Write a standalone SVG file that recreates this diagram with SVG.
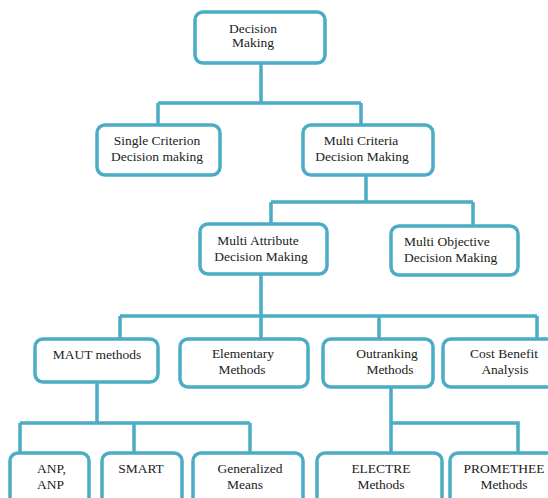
<svg xmlns="http://www.w3.org/2000/svg" width="548" height="498" viewBox="0 0 548 498">
<style>
.box{fill:#fff;stroke:#4BACC6;stroke-width:3.5}
.ln{fill:none;stroke:#4BACC6;stroke-width:3.5}
text{font-family:"Liberation Serif","Times New Roman",serif;font-size:13.5px;fill:#222}
.c{text-anchor:middle}
</style>
<rect width="548" height="498" fill="#fff"/>
<g id="connectors">
<path class="ln" d="M261 63V103M158 103H361M158 103V125M361 103V125"/>
<path class="ln" d="M366 175V202M271 202H473M271 202V224M473 202V226"/>
<path class="ln" d="M261 274V339M120 316H537M120 316V339M379 316V339M537 316V339"/>
<path class="ln" d="M97 382V423M20 423H250M20 423V453M134 423V453M250 423V453"/>
<path class="ln" d="M391 387V453M391 423H518V453"/>
</g>
<g id="decision-making"><rect class="box" x="195" y="12" width="130" height="51" rx="8"/><text class="c" x="253" y="33">Decision</text><text class="c" x="253" y="47">Making</text></g>
<g id="single-criterion"><rect class="box" x="97" y="125" width="123" height="50" rx="8"/><text class="c" x="157" y="145">Single Criterion</text><text class="c" x="157" y="161">Decision making</text></g>
<g id="multi-criteria"><rect class="box" x="303" y="125" width="130" height="50" rx="8"/><text class="c" x="361" y="145">Multi Criteria</text><text class="c" x="362" y="161">Decision Making</text></g>
<g id="multi-attribute"><rect class="box" x="200" y="224" width="127" height="50" rx="8"/><text class="c" x="258" y="245">Multi Attribute</text><text class="c" x="261" y="261">Decision Making</text></g>
<g id="multi-objective"><rect class="box" x="391" y="226" width="127" height="49" rx="8"/><text x="404" y="246">Multi Objective</text><text x="404" y="262">Decision Making</text></g>
<g id="maut"><rect class="box" x="35" y="339" width="123" height="43" rx="8"/><text class="c" x="97" y="359">MAUT methods</text></g>
<g id="elementary"><rect class="box" x="180" y="339" width="128" height="48" rx="8"/><text class="c" x="243" y="358">Elementary</text><text class="c" x="242" y="374">Methods</text></g>
<g id="outranking"><rect class="box" x="323" y="339" width="110" height="48" rx="8"/><text class="c" x="387" y="358">Outranking</text><text class="c" x="390" y="374">Methods</text></g>
<g id="cost-benefit"><rect class="box" x="443" y="339" width="120" height="48" rx="8"/><text class="c" x="504" y="358">Cost Benefit</text><text class="c" x="505" y="374">Analysis</text></g>
<g id="anp"><rect class="box" x="10" y="453" width="79" height="55" rx="8"/><text x="37" y="473">ANP,</text><text x="37" y="489">ANP</text></g>
<g id="smart"><rect class="box" x="102" y="453" width="80" height="55" rx="8"/><text class="c" x="141" y="473">SMART</text></g>
<g id="generalized"><rect class="box" x="193" y="453" width="110" height="55" rx="8"/><text class="c" x="250" y="473">Generalized</text><text class="c" x="245" y="489">Means</text></g>
<g id="electre"><rect class="box" x="317" y="453" width="125" height="55" rx="8"/><text class="c" x="381" y="473">ELECTRE</text><text class="c" x="381" y="489">Methods</text></g>
<g id="promethee"><rect class="box" x="450" y="453" width="120" height="55" rx="8"/><text class="c" x="504" y="473">PROMETHEE</text><text class="c" x="504" y="489">Methods</text></g>
</svg>
